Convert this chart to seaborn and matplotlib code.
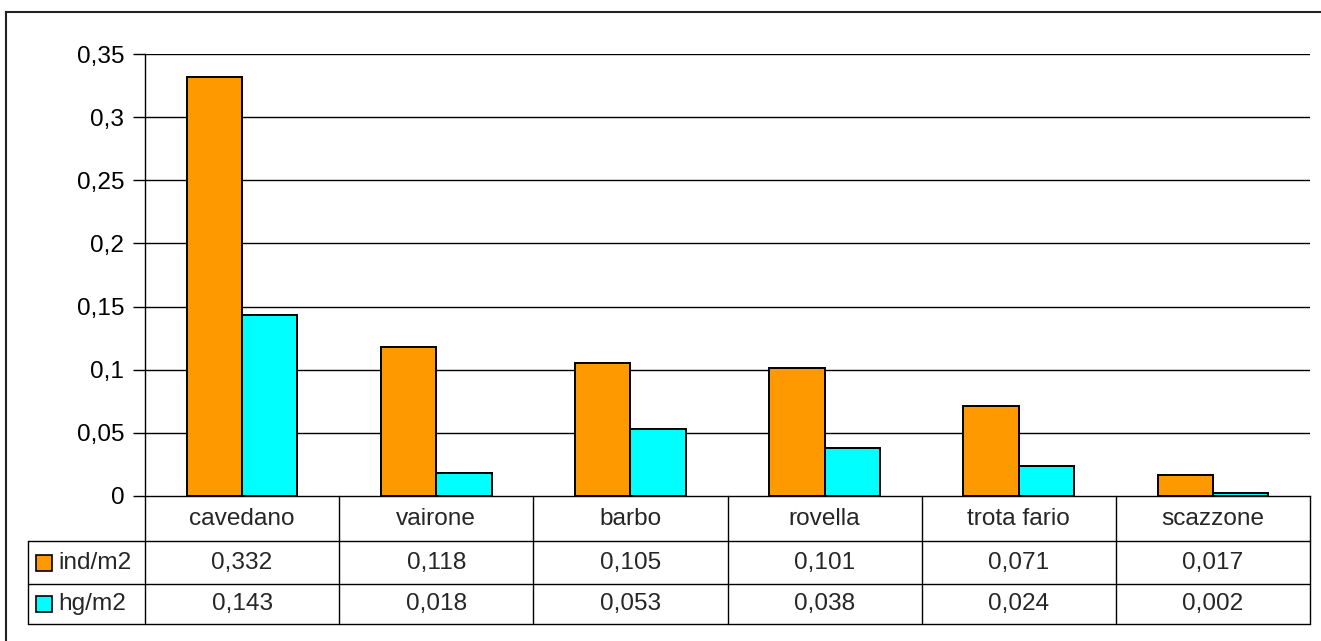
import matplotlib
matplotlib.use("Agg")
import matplotlib.pyplot as plt
import matplotlib.transforms as mtransforms
from matplotlib.patches import Rectangle
from matplotlib.lines import Line2D
import seaborn as sns
import pandas as pd

categories = ["cavedano", "vairone", "barbo", "rovella", "trota fario", "scazzone"]
series_names = ["ind/m2", "hg/m2"]
ind_m2 = [0.332, 0.118, 0.105, 0.101, 0.071, 0.017]
hg_m2 = [0.143, 0.018, 0.053, 0.038, 0.024, 0.002]
yticks = [0, 0.05, 0.1, 0.15, 0.2, 0.25, 0.3, 0.35]
ytick_labels = ["0", "0,05", "0,1", "0,15", "0,2", "0,25", "0,3", "0,35"]
colors = ["#FF9900", "#00FFFF"]

sns.set_theme(style="white")
plt.rcParams["font.family"] = ["Liberation Sans", "DejaVu Sans"]

FS = 17.6
W, H = 1321, 641
fig = plt.figure(figsize=(W / 100, H / 100), dpi=100)
fig.patch.set_facecolor("white")

def fx(px):
    return px / W

def fy(py):
    return 1 - py / H

left, right, top, bottom = 145, 1310, 54, 496
ax = fig.add_axes([fx(left), fy(bottom), fx(right - left), (bottom - top) / H])

df = pd.DataFrame({
    "cat": categories * 2,
    "series": [series_names[0]] * len(categories) + [series_names[1]] * len(categories),
    "val": ind_m2 + hg_m2,
})
sns.barplot(data=df, x="cat", y="val", hue="series", order=categories,
            hue_order=series_names, palette=colors, width=0.57, saturation=1,
            edgecolor="black", linewidth=1.4, ax=ax, legend=False, zorder=3)

ax.set_xlim(-0.5, len(categories) - 0.5)
ax.set_ylim(0, 0.35)
ax.set_yticks(yticks)
ax.set_yticklabels(ytick_labels, fontsize=FS)
ax.set_xticks([])
ax.set_xlabel("")
ax.set_ylabel("")
for y in yticks[1:]:
    ax.axhline(y, color="black", linewidth=1.0, zorder=1)
for s in ["top", "right"]:
    ax.spines[s].set_visible(False)
ax.spines["left"].set_color("black")
ax.spines["bottom"].set_color("black")
ax.spines["left"].set_linewidth(1.0)
ax.spines["bottom"].set_linewidth(1.0)
ax.tick_params(axis="y", direction="out", length=9, width=1, color="black",
               left=True, pad=6, labelcolor="black")
ax.set_facecolor("white")

# data table
tr = mtransforms.blended_transform_factory(ax.transData, fig.transFigure)
row_y = [496, 541, 584, 624]
for k in range(len(categories) + 1):
    x = k - 0.5
    fig.add_artist(Line2D([x, x], [fy(row_y[0]), fy(row_y[3])], transform=tr,
                          color="black", linewidth=1.0))
for py in row_y[1:]:
    fig.add_artist(Line2D([fx(28), fx(right)], [fy(py), fy(py)],
                          transform=fig.transFigure, color="black", linewidth=1.0))
fig.add_artist(Line2D([fx(28), fx(28)], [fy(row_y[1]), fy(row_y[3])],
                      transform=fig.transFigure, color="black", linewidth=1.0))

for i, c in enumerate(categories):
    fig.text(i, fy(519), c, transform=tr, ha="center", va="center", fontsize=FS)
for i, (a, b) in enumerate(zip(ind_m2, hg_m2)):
    fig.text(i, fy(563), f"{a:.3f}".replace(".", ","), transform=tr,
             ha="center", va="center", fontsize=FS)
    fig.text(i, fy(604), f"{b:.3f}".replace(".", ","), transform=tr,
             ha="center", va="center", fontsize=FS)

for name, col, cy in zip(series_names, colors, [563, 604]):
    fig.add_artist(Rectangle((fx(36), fy(cy + 8)), fx(16), 16 / H,
                             transform=fig.transFigure, facecolor=col,
                             edgecolor="black", linewidth=1.2))
    fig.text(fx(58), fy(cy), name, ha="left", va="center", fontsize=FS)

# outer chart frame (only top and left edges are visible in the image)
fig.add_artist(Line2D([fx(6), 1.0], [fy(12), fy(12)], transform=fig.transFigure,
                      color="#222222", linewidth=1.5, solid_capstyle="projecting"))
fig.add_artist(Line2D([fx(6), fx(6)], [fy(12), 0.0], transform=fig.transFigure,
                      color="#222222", linewidth=1.5, solid_capstyle="projecting"))

fig.savefig("out.png", dpi=100)
